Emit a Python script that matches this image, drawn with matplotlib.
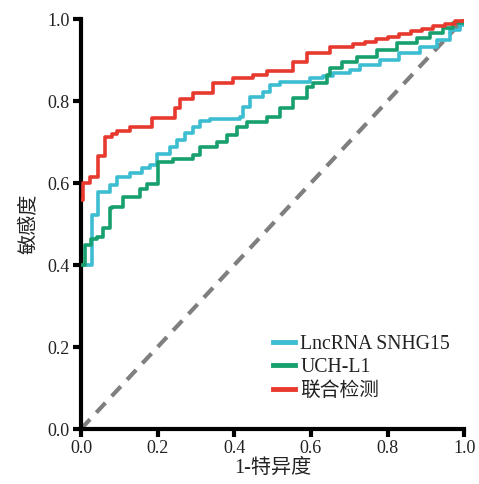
import matplotlib
matplotlib.use("Agg")
import matplotlib.pyplot as plt

# ROC step data (1-specificity, sensitivity)
snhg15_x = [0, 0.028, 0.044, 0.075, 0.094, 0.128, 0.159, 0.18, 0.198, 0.232, 0.25, 0.271,
            0.292, 0.311, 0.337, 0.415, 0.423, 0.441, 0.475, 0.493, 0.519, 0.598, 0.632,
            0.658, 0.702, 0.728, 0.78, 0.83, 0.885, 0.93, 0.963, 0.99, 1.0]
snhg15_y = [0.4, 0.522, 0.578, 0.595, 0.615, 0.624, 0.637, 0.644, 0.67, 0.688, 0.705, 0.722,
            0.737, 0.751, 0.756, 0.761, 0.785, 0.81, 0.822, 0.839, 0.846, 0.856, 0.861,
            0.868, 0.876, 0.888, 0.9, 0.917, 0.932, 0.949, 0.973, 0.985, 1.0]

uchl1_x = [0, 0.01, 0.026, 0.042, 0.057, 0.076, 0.081, 0.11, 0.154, 0.172, 0.201, 0.24,
           0.292, 0.311, 0.355, 0.381, 0.407, 0.433, 0.486, 0.52, 0.554, 0.59, 0.606,
           0.642, 0.65, 0.68, 0.72, 0.773, 0.825, 0.877, 0.911, 0.945, 0.971, 1.0]
uchl1_y = [0.4, 0.449, 0.463, 0.468, 0.49, 0.539, 0.541, 0.566, 0.585, 0.597, 0.651, 0.659,
           0.668, 0.688, 0.7, 0.717, 0.737, 0.749, 0.761, 0.783, 0.807, 0.834, 0.844,
           0.863, 0.88, 0.895, 0.907, 0.924, 0.941, 0.954, 0.966, 0.978, 0.99, 1.0]

combo_x = [0, 0.005, 0.023, 0.044, 0.063, 0.081, 0.094, 0.128, 0.185, 0.245, 0.258, 0.292,
           0.345, 0.397, 0.449, 0.486, 0.554, 0.59, 0.65, 0.71, 0.74, 0.77, 0.80, 0.83,
           0.86, 0.89, 0.92, 0.95, 0.975, 1.0]
combo_y = [0.558, 0.6, 0.615, 0.666, 0.712, 0.72, 0.727, 0.737, 0.758, 0.783, 0.805, 0.82,
           0.843, 0.857, 0.863, 0.873, 0.895, 0.917, 0.932, 0.938, 0.944, 0.951, 0.957, 0.963,
           0.970, 0.976, 0.983, 0.989, 0.995, 1.0]

labels = ["LncRNA SNHG15", "UCH-L1", "联合检测"]
colors = ["#3dbdd1", "#17a06d", "#e8392e"]
xticks = [0.0, 0.2, 0.4, 0.6, 0.8, 1.0]
yticks = [0.0, 0.2, 0.4, 0.6, 0.8, 1.0]

plt.rcParams['font.family'] = ['Liberation Serif', 'Noto Sans CJK SC']

fig = plt.figure(figsize=(4.79, 4.84), dpi=100)
ax = fig.add_axes([0.169, 0.1136, 0.800, 0.847])

ax.plot([0, 1], [0, 1], color="#7f7f7f", lw=3.0, ls=(0, (3.2, 2.2)), zorder=1)
ax.plot(snhg15_x, snhg15_y, drawstyle='steps-post', color=colors[0], lw=2.6, label=labels[0], zorder=2)
ax.plot(uchl1_x, uchl1_y, drawstyle='steps-post', color=colors[1], lw=2.6, label=labels[1], zorder=3)
ax.plot(combo_x, combo_y, drawstyle='steps-post', color=colors[2], lw=2.6, label=labels[2], zorder=4)

ax.set_xlim(0, 1.0)
ax.set_ylim(0, 1.0)
ax.set_xticks(xticks)
ax.set_yticks(yticks)
ax.set_xticklabels([f"{t:.1f}" for t in xticks])
ax.set_yticklabels([f"{t:.1f}" for t in yticks])
ax.spines['top'].set_visible(False)
ax.spines['right'].set_visible(False)
for s in ['left', 'bottom']:
    ax.spines[s].set_linewidth(3.0)
ax.tick_params(axis='both', direction='out', length=6, width=3, labelsize=13, pad=2, colors='black')
ax.tick_params(axis='both', labelcolor='#222222')

ax.set_xlabel("1-特异度", fontsize=14.5, labelpad=1, color='#222222')
ax.set_ylabel("敏感度", fontsize=14.5, labelpad=6, color='#222222')

leg = ax.legend(loc='lower left', bbox_to_anchor=(0.48, 0.05), frameon=False, fontsize=14.2,
                handlelength=1.15, handletextpad=0.25, labelspacing=0.22, borderaxespad=0)
for t in leg.get_texts():
    t.set_color('#222222')
for h in leg.get_lines():
    h.set_linewidth(3.5)

fig.savefig("out.png", dpi=100)
